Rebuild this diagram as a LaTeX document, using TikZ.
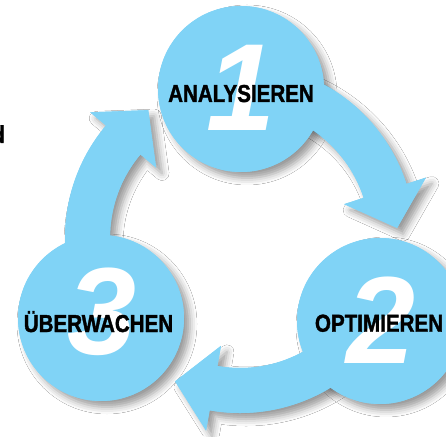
\documentclass[tikz,border=0pt]{standalone}
\usepackage{fontspec}
\setmainfont{Liberation Sans}
\newfontfamily\labelfont[FakeStretch=0.84, BoldFeatures={FakeBold=1.4}]{Liberation Sans}
\newfontfamily\numfont{Liberation Sans}
\usetikzlibrary{shadows.blur}
\definecolor{cycleblue}{HTML}{80D3F6}
\begin{document}
\begin{tikzpicture}[x=1pt,y=1pt,
  withshadow/.style={fill=cycleblue, blur shadow={shadow xshift=6pt, shadow yshift=-6pt, shadow blur radius=7pt, shadow opacity=40}},
  flatfill/.style={fill=cycleblue},
  num/.style={text=white, font=\numfont\bfseries\itshape\fontsize{124pt}{124pt}\selectfont, inner sep=0pt},
  lbl/.style={text=black, font=\labelfont\bfseries\fontsize{24.5pt}{25pt}\selectfont, inner sep=0pt, anchor=base}]
\useasboundingbox (0,0) rectangle (446,436);
\fill[white] (0,0) rectangle (446,436);
\coordinate (ring) at (240,198);
\coordinate (c1) at (241,347);
\coordinate (c2) at (380,115);
\coordinate (c3) at (101,118);
% shadow pass
\foreach \a/\b in {210/140,90/18,-30/-100}{
  \path[withshadow, shift={(ring)}] (\a:175pt) arc[start angle=\a, end angle=\b, radius=175pt]
    -- (\b:195.5pt) -- (\b-14.35:157.4pt) -- (\b:109.5pt) -- (\b:130pt)
    arc[start angle=\b, end angle=\a, radius=130pt] -- cycle;
}
\foreach \c in {c1,c2,c3}{\path[withshadow] (\c) circle[radius=83pt];}
% fill pass
\foreach \a/\b in {210/140,90/18,-30/-100}{
  \path[flatfill, shift={(ring)}] (\a:175pt) arc[start angle=\a, end angle=\b, radius=175pt]
    -- (\b:195.5pt) -- (\b-14.35:157.4pt) -- (\b:109.5pt) -- (\b:130pt)
    arc[start angle=\b, end angle=\a, radius=130pt] -- cycle;
}
\foreach \c in {c1,c2,c3}{\path[flatfill] (\c) circle[radius=83pt];}
% numbers
\node[num] (n1) at (241,348) {1};
\node[num] (n2) at (381,116) {2};
\node[num] (n3) at (102,124.5) {3};
% labels
\node[lbl] (l1) at (241,334) {ANALYSIEREN};
\node[lbl] (l2) at (379,104.3) {OPTIMIEREN};
\node[lbl] (l3) at (98.5,104) {ÜBERWACHEN};
\node[lbl, anchor=base east] (cut) at (5,293) {d};
\end{tikzpicture}
\end{document}
